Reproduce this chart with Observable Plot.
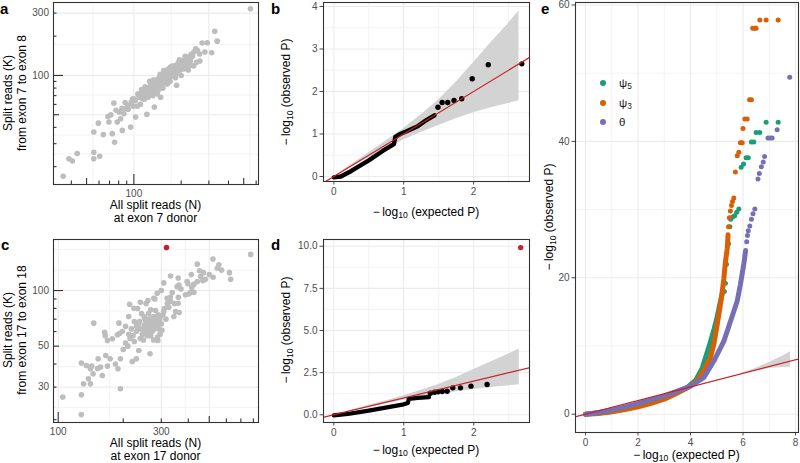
<!DOCTYPE html>
<html><head><meta charset="utf-8">
<script src="https://cdn.jsdelivr.net/npm/d3@7"></script>
<script src="https://cdn.jsdelivr.net/npm/@observablehq/plot@0.6"></script>
<style>
html,body{margin:0;padding:0;background:#fff;}
#root{position:relative;width:800px;height:463px;overflow:hidden;font-family:'Liberation Sans',Arial,Helvetica,sans-serif;color:#000;}
#root svg{position:absolute;}
.lbl{position:absolute;font-weight:bold;font-size:15px;line-height:1;transform:translate(0,-50%);}
.xt{position:absolute;transform:translate(-50%,-50%);white-space:nowrap;text-align:center;font-size:12px;line-height:13px;}
.yt{position:absolute;transform:translate(-50%,-50%) rotate(-90deg);white-space:nowrap;text-align:center;font-size:12px;line-height:14px;}
sub{font-size:72%;vertical-align:-0.3em;line-height:0;}
.leg{position:absolute;font-size:11.5px;transform:translate(0,-50%);white-space:nowrap;color:#1a1a1a;}
.legdot{position:absolute;width:6px;height:6px;border-radius:50%;transform:translate(-50%,-50%);}
</style></head>
<body><div id="root"></div>
<script>
// ---------------- DATA ----------------
// Panel a: [All split reads N, split reads K]
const aPoints = [
[552,324],[327,218],[339,183],[272,177],[293,178],[313,149],[283,151],[241,151],[254,155],[263,129],
[250,126],[229,130],[203,130],[208,123],[213,113],[193,126],[184,119],[189,109],[171,116],[163,106],
[175,100],[155,109],[148,100],[159,94],[187,84],[141,92],[134,86],[128,84],[122,79],[106,72],
[113,74],[131,77],[148,82],[163,86],[98,66],[247,160],[262,146],[236,140],[222,138],[216,132],
[230,120],[240,118],[195,132],[200,127],[205,120],[210,118],[198,115],[215,128],[220,125],[225,118],
[190,122],[182,114],[178,110],[186,104],[170,104],[166,112],[176,118],
[74.6,61.3],[91.6,58.9],[100,66.3],[108,72.4],[118.6,70.3],[126,73],[141,72],[148,68],[135,57.2],[121,50.3],
[102.5,48],[95.3,40.2],[82.3,46.6],[78.4,43.9],[84.4,37.9],[72.9,35.8],[75.4,30.8],[63.9,35.2],[59.4,43.1],[55.6,36.9],
[69.4,43.9],[68.4,48.5],[80.8,52.4],[86.4,50.9],[77,54],[88.5,55.5],[71.3,49.9],[55.6,25.8],[55.6,23.0],[60.6,24.0],
[43.6,25.2],[38.6,23.0],[40.6,22.1],[35.5,16.9],
[125,80],[130,84],[135,88],[140,86],[145,90],[150,95],[155,98],[160,100],[165,103],[120,76],
[118,82],[128,78],[138,80],[142,94],[152,88],[158,92],[168,97],[115,70],[112,78],[126,90],
[133,92],[147,102],[162,110],[108,68],[102,64],[96,62],[110,60],[117,66],[123,68],[92,55],
[99,58],[105,58],[88,62],[84,56],[132,70],[144,78],[153,80],[170,90],[184,96],[200,100],
[222,110],[232,145],[212,140],
[112,72],[116,75],[119,73],[124,77],[127,82],[129,75],[134,80],[137,84],[139,90],[143,88],
[146,84],[149,91],[151,86],[154,93],[156,89],[161,95],[164,99],[167,94],[169,101],[172,98],
[174,105],[177,102],[181,107],[183,100],[188,112],[191,108],[194,114],[197,110],[202,116],[206,112],
[211,121],[218,119],[136,74],[146,96],[157,104],[171,108],[185,115],[199,122],[114,66],[121,71]
];
// Panel c: grey points and the highlighted (red) sample
const cPoints = [
[777,157],[520,148],[554,138],[570,129],[440,139],[451,128],[456,119],[467,113],[521,118],[628,115],
[413,122],[424,108],[398,109],[331,120],[359,117],[355,105],[362,107],[308,110],[287,96.7],[277,90.9],
[337,97.5],[319,90.9],[331,87.2],[359,85.4],[388,94.8],[403,96],[410,98],[325,81.2],[349,77],[363,76],
[343,72.4],[308,77],[268,78.7],[240,86.4],[260,88.3],[214,84.3],[224,80.2],[233,80],[212,72.4],[191,66.6],
[146,66.6],
[164,59.5],[165,57],[178,54.8],[169,53.7],[188,57.6],[192,58.5],[289,53.7],[266,45.5],[236,47.4],[230,42.7],
[220,41.3],[194,42.7],[189,37.7],[184,40],[174,42.7],[169,39],[166,44.5],[153,42.7],[157,38.5],[152,37.8],
[160,34.7],[145,35.4],[141,37.7],[138,33.3],[143,39],[135,39.3],[128,40.5],[131,31.3],[141,31.3],[194,29.4],
[105,26.5],[128,27.3],[128,21.3],
[240,62],[250,65],[255,68],[260,63],[265,70],[270,66],[275,72],[280,64],[285,68],[290,74],
[295,70],[300,66],[245,58],[255,60],[235,66],[230,60],[262,75],[272,60],[282,78],[292,62],
[305,74],[310,80],[250,72],[225,68],[218,62],[205,64],[212,58],[198,60],[268,57],[288,56],
[240,55],[315,70],[320,85],[330,92],[345,85],[300,100],[280,90],[255,85],[360,92],[370,102],
[395,112],[415,104],[425,98],[470,125],[500,122],[480,115],[440,112],[545,132],[620,125],[205,52],
[215,55],[225,53],[200,48],[210,50],
[238,68],[247,62],[252,70],[258,66],[263,60],[267,64],[273,69],[278,62],[283,72],[287,65],
[293,68],[298,73],[302,61],[248,54],[258,57],[276,54],[296,58],[230,64],[222,57],[243,75]
];
const cHighlight = [[317,171]];

// QQ panels b, d: 95% band [expected, lower, upper]
const qqBand = [
[0,0,0],[0.25,0.22,0.28],[0.5,0.44,0.56],[0.75,0.65,0.84],[1.0,0.86,1.13],[1.25,1.04,1.45],
[1.5,1.2,1.8],[1.75,1.36,2.22],[2.0,1.5,2.68],[2.25,1.62,3.15],[2.5,1.72,3.6],[2.65,1.78,3.9]
];
const bDense = [[0,-0.02],[0.1,0.0],[0.25,0.13],[0.5,0.38],[0.7,0.6],[0.86,0.76],[0.88,0.93],[0.95,1.0],[1.05,1.07],[1.2,1.18],[1.3,1.3],[1.44,1.44]];
const bDots = [[1.49,1.63],[1.55,1.74],[1.63,1.74],[1.72,1.79],[1.83,1.83],[1.98,2.30],[2.21,2.63],[2.69,2.65]];
const dDense = [[0,-0.03],[0.2,0.05],[0.5,0.25],[0.8,0.47],[1.0,0.62],[1.06,0.7],[1.07,0.95],[1.2,1.0],[1.36,1.05]];
const dDots = [[1.38,1.28],[1.44,1.34],[1.49,1.36],[1.55,1.38],[1.62,1.40],[1.70,1.60],[1.81,1.60],[1.96,1.70],[2.19,1.80]];
const dHighlight = [[2.67,9.92]];
const refLine = [[-1,-1],[12,12]];

// Panel e
const eBand = [[5.9,5.85,5.95],[6.5,6.3,6.75],[7.0,6.7,7.6],[7.5,6.85,8.5],[7.81,6.9,9.15]];
const psi5Dense = [[0,0],[1,0.4],[2,1.2],[3,2.4],[3.9,4.0],[4.2,5.0],[4.45,6.8],[4.63,9.0],[4.75,10.5],[4.9,12.5],[5.0,14.0],[5.12,16.2],[5.2,17.5]];
const psi5Dots = [[5.29,18.0],[5.33,19.2],[5.37,22.0],[5.45,25.0],[5.5,27.5],[5.53,28.6],[5.6,28.9],[5.68,29.1],[5.76,29.6],[5.84,30.1],
[5.93,36.2],[6.02,36.7],[6.12,37.6],[6.2,37.6],[6.32,39.9],[6.41,39.9],[6.5,41.3],[6.64,41.3],[6.88,42.8],[7.34,42.8]];
const psi3Dense = [[0,0],[0.5,0.1],[1,0.35],[1.5,0.7],[2,1.1],[2.5,1.6],[3,2.2],[3.5,3.1],[3.9,3.9],[4.25,4.95],[4.5,6.4],[4.76,8.3],[4.89,10.3],[5.02,13.2],[5.12,15.6],[5.21,18.0],[5.27,19.9],[5.33,22.3],[5.40,24.3],[5.43,26.3]];
const psi3Dots = [[5.45,27.5],[5.48,28.8],[5.52,29.8],[5.56,30.6],[5.6,31.2],[5.65,31.7],[5.71,35.5],[5.78,37.9],[5.84,38.4],[5.9,39.8],
[5.97,39.8],[6.0,41.9],[6.07,43.3],[6.16,43.3],[6.25,46.1],[6.32,46.1],[6.37,56.6],[6.45,56.6],[6.5,56.6],[6.64,57.8],[6.88,57.8],[7.34,57.8]];
const thetaDense = [[0,0],[0.5,0.25],[1,0.6],[1.5,1.05],[2,1.55],[2.5,2.1],[3,2.7],[3.5,3.4],[4,4.1],[4.51,5.4],[4.89,7.8],[5.27,10.7],[5.53,13.7],[5.78,16.6],[5.9,19.0],[6.03,22.0],[6.1,24.0]];
const thetaDots = [[6.14,25.3],[6.17,26.2],[6.2,26.9],[6.26,27.6],[6.32,28.6],[6.38,29.4],[6.45,30.1],[6.57,34.5],[6.62,35.3],[6.7,36.3],
[6.77,37.0],[6.82,37.8],[6.95,40.5],[7.03,40.5],[7.11,40.5],[7.30,41.7],[7.78,49.4]];
const eSeries = ["ψ5", "ψ3", "θ"];
const eColors = ["#1b9e77", "#d95f02", "#7570b3"];

// tick values
const aTicksX = [100, 300], aTicksY = [50, 100, 300];
const cTicksX = [100, 300, 500], cTicksY = [30, 50, 100];
const qqTicksX = [0, 1, 2], bTicksY = [0, 1, 2, 3, 4], dTicksY = [0, 2.5, 5, 7.5, 10];
const eTicksX = [0, 2, 4, 6, 8], eTicksY = [0, 20, 40, 60];

// ---------------- DRAWING ----------------
const root = document.getElementById("root");
const GRID = "#ebebeb", FRAME = "#333333", GREY = "#bdbdbd", RED = "#c8202a", BLACK = "#000";
const X = d => d[0], Y = d => d[1];

function panel({left, top, w, h, frame, x, y, marks}) {
  const [L, T, R, B] = frame;
  const svg = Plot.plot({
    width: w, height: h,
    marginLeft: L - left, marginTop: T - top, marginRight: left + w - R, marginBottom: top + h - B,
    x: {...x, label: null}, y: {...y, label: null},
    style: {fontFamily: "'Liberation Sans', Arial, sans-serif", fontSize: "10px", color: "#4d4d4d", background: "transparent", overflow: "visible"},
    marks
  });
  svg.style.left = left + "px";
  svg.style.top = top + "px";
  root.appendChild(svg);
}
function gridX(v, major) { return Plot.ruleX(v, {x: d => d, stroke: GRID, strokeWidth: major ? 1.1 : 0.6}); }
function gridY(v, major) { return Plot.ruleY(v, {y: d => d, stroke: GRID, strokeWidth: major ? 1.1 : 0.6}); }
function logTickX(v, len, fh) { return Plot.ruleX(v, {x: d => d, insetTop: fh - len, stroke: FRAME, strokeWidth: 1.1}); }
function logTickY(v, len, fw) { return Plot.ruleY(v, {y: d => d, insetRight: fw - len, stroke: FRAME, strokeWidth: 1.1}); }
function text(cls, html, l, t) { const d = document.createElement("div"); d.className = cls; d.innerHTML = html; d.style.left = l + "px"; d.style.top = t + "px"; root.appendChild(d); }

// ---- Panel a ----
panel({
  left: 0, top: 0, w: 268, h: 200, frame: [53, 2, 258, 184],
  x: {type: "log", domain: [30.8, 621]}, y: {type: "log", domain: [14.6, 362]},
  marks: [
    gridX([54.8, 173, 548], false), gridY([25, 35, 70.7, 173], false),
    gridX(aTicksX, true), gridY(aTicksY, true),
    Plot.dot(aPoints, {x: X, y: Y, r: 2.8, fill: GREY}),
    logTickX([40, 60, 70, 80, 90, 200, 300, 400, 600], 3.5, 182), logTickX([50, 500], 6, 182), logTickX([100], 10, 182),
    logTickY([20, 30, 40, 60, 70, 80, 90, 200, 300], 3.5, 205), logTickY([50], 6, 205), logTickY([100], 10, 205),
    Plot.axisX(aTicksX, {tickSize: 0, tickPadding: 5, tickFormat: d => String(d)}),
    Plot.axisY(aTicksY, {tickSize: 0, tickPadding: 4.5, tickFormat: d => String(d)}),
    Plot.frame({stroke: FRAME, strokeWidth: 1.1})
  ]
});

// ---- Panel b ----
panel({
  left: 270, top: 0, w: 268, h: 200, frame: [323, 2, 529, 181],
  x: {domain: [-0.148, 2.8]}, y: {domain: [-0.118, 4.094]},
  marks: [
    gridX([0.5, 1.5, 2.5], false), gridY([0.5, 1.5, 2.5, 3.5], false),
    gridX(qqTicksX, true), gridY(bTicksY, true),
    Plot.areaY(qqBand, {x: d => d[0], y1: d => d[1], y2: d => d[2], fill: "#d3d3d3"}),
    Plot.line(bDense, {x: X, y: Y, stroke: BLACK, strokeWidth: 4.4, strokeLinecap: "round", strokeLinejoin: "round"}),
    Plot.dot(bDots, {x: X, y: Y, r: 2.7, fill: BLACK}),
    Plot.line(refLine, {x: X, y: Y, stroke: RED, strokeWidth: 1.2, clip: true}),
    Plot.axisX(qqTicksX, {tickSize: 3.5, tickPadding: 2.5, tickFormat: d => String(d)}),
    Plot.axisY(bTicksY, {tickSize: 3.5, tickPadding: 2.5, tickFormat: d => String(d)}),
    Plot.frame({stroke: FRAME, strokeWidth: 1.1})
  ]
});

// ---- Panel c ----
panel({
  left: 0, top: 230, w: 268, h: 215, frame: [53, 239, 258, 422],
  x: {type: "log", domain: [95.1, 845]}, y: {type: "log", domain: [19.3, 189]},
  marks: [
    gridX([173, 387], false), gridY([23.3, 38.7, 77.5, 129, 167], false),
    gridX(cTicksX, true), gridY(cTicksY, true),
    Plot.dot(cPoints, {x: X, y: Y, r: 2.8, fill: GREY}),
    Plot.dot(cHighlight, {x: X, y: Y, r: 2.8, fill: RED}),
    logTickX([200, 300, 400, 600, 700, 800], 3.5, 183), logTickX([500], 6, 183), logTickX([100], 10, 183),
    logTickY([20, 30, 40, 60, 70, 80, 90], 3.5, 205), logTickY([50], 6, 205), logTickY([100], 10, 205),
    Plot.axisX(cTicksX, {tickSize: 0, tickPadding: 5, tickFormat: d => String(d)}),
    Plot.axisY(cTicksY, {tickSize: 0, tickPadding: 4.5, tickFormat: d => String(d)}),
    Plot.frame({stroke: FRAME, strokeWidth: 1.1})
  ]
});

// ---- Panel d ----
panel({
  left: 270, top: 230, w: 268, h: 215, frame: [323, 239, 529, 422],
  x: {domain: [-0.147, 2.796]}, y: {domain: [-0.457, 10.40]},
  marks: [
    gridX([0.5, 1.5, 2.5], false), gridY([1.25, 3.75, 6.25, 8.75], false),
    gridX(qqTicksX, true), gridY(dTicksY, true),
    Plot.areaY(qqBand, {x: d => d[0], y1: d => d[1], y2: d => d[2], fill: "#d3d3d3"}),
    Plot.line(dDense, {x: X, y: Y, stroke: BLACK, strokeWidth: 4.2, strokeLinecap: "round", strokeLinejoin: "round"}),
    Plot.dot(dDots, {x: X, y: Y, r: 2.7, fill: BLACK}),
    Plot.dot(dHighlight, {x: X, y: Y, r: 2.7, fill: RED}),
    Plot.line(refLine, {x: X, y: Y, stroke: RED, strokeWidth: 1.2, clip: true}),
    Plot.axisX(qqTicksX, {tickSize: 3.5, tickPadding: 2.5, tickFormat: d => String(d)}),
    Plot.axisY(dTicksY, {tickSize: 3.5, tickPadding: 2.5, tickFormat: d => d.toFixed(1)}),
    Plot.frame({stroke: FRAME, strokeWidth: 1.1})
  ]
});

// ---- Panel e ----
const lineOpt = c => ({x: X, y: Y, stroke: c, strokeWidth: 5, strokeLinecap: "round", strokeLinejoin: "round"});
panel({
  left: 540, top: 0, w: 260, h: 463, frame: [575, 2, 798, 432],
  x: {domain: [-0.381, 8.114]}, y: {domain: [-2.68, 60.37]},
  marks: [
    gridX([1, 3, 5, 7], false), gridY([10, 30, 50], false),
    gridX(eTicksX, true), gridY(eTicksY, true),
    Plot.areaY(eBand, {x: d => d[0], y1: d => d[1], y2: d => d[2], fill: "#d3d3d3"}),
    Plot.line(psi5Dense, lineOpt(eColors[0])),
    Plot.dot(psi5Dots, {x: X, y: Y, r: 2.5, fill: eColors[0]}),
    Plot.line(psi3Dense, lineOpt(eColors[1])),
    Plot.dot(psi3Dots, {x: X, y: Y, r: 2.5, fill: eColors[1]}),
    Plot.line(thetaDense, lineOpt(eColors[2])),
    Plot.dot(thetaDots, {x: X, y: Y, r: 2.5, fill: eColors[2]}),
    Plot.line(refLine, {x: X, y: Y, stroke: RED, strokeWidth: 1.2, clip: true}),
    Plot.axisX(eTicksX, {tickSize: 3.5, tickPadding: 2.5, tickFormat: d => String(d)}),
    Plot.axisY(eTicksY, {tickSize: 3.5, tickPadding: 2.5, tickFormat: d => String(d)}),
    Plot.frame({stroke: FRAME, strokeWidth: 1.1})
  ]
});

// ---- Titles & labels ----
const ML = "\u2212\u2009log<sub>10</sub>";
text("lbl", "a", 0, 8); text("lbl", "b", 271, 8); text("lbl", "e", 541, 8);
text("lbl", "c", 1, 244); text("lbl", "d", 271, 244);
text("yt", "Split reads (K)<br>from exon 7 to exon 8", 15, 93);
text("xt", "All split reads (N)<br>at exon 7 donor", 155.5, 211.5);
text("yt", "Split reads (K)<br>from exon 17 to exon 18", 15, 330);
text("xt", "All split reads (N)<br>at exon 17 donor", 155.5, 449.5);
text("yt", ML + " (observed P)", 286, 92);
text("xt", ML + " (expected P)", 426, 212);
text("yt", ML + " (observed P)", 286, 330);
text("xt", ML + " (expected P)", 426, 450);
text("yt", ML + " (observed P)", 549, 217);
text("xt", ML + " (expected P)", 686.5, 455);

// legend for panel e
const legY = [83, 103, 122];
eSeries.forEach((s, i) => {
  const dot = document.createElement("div");
  dot.className = "legdot"; dot.style.left = "603px"; dot.style.top = legY[i] + "px"; dot.style.background = eColors[i];
  root.appendChild(dot);
  const lab = s[0] === "ψ" ? "ψ<sub>" + s.slice(1) + "</sub>" : s;
  text("leg", lab, 619, legY[i]);
});
</script></body></html>
